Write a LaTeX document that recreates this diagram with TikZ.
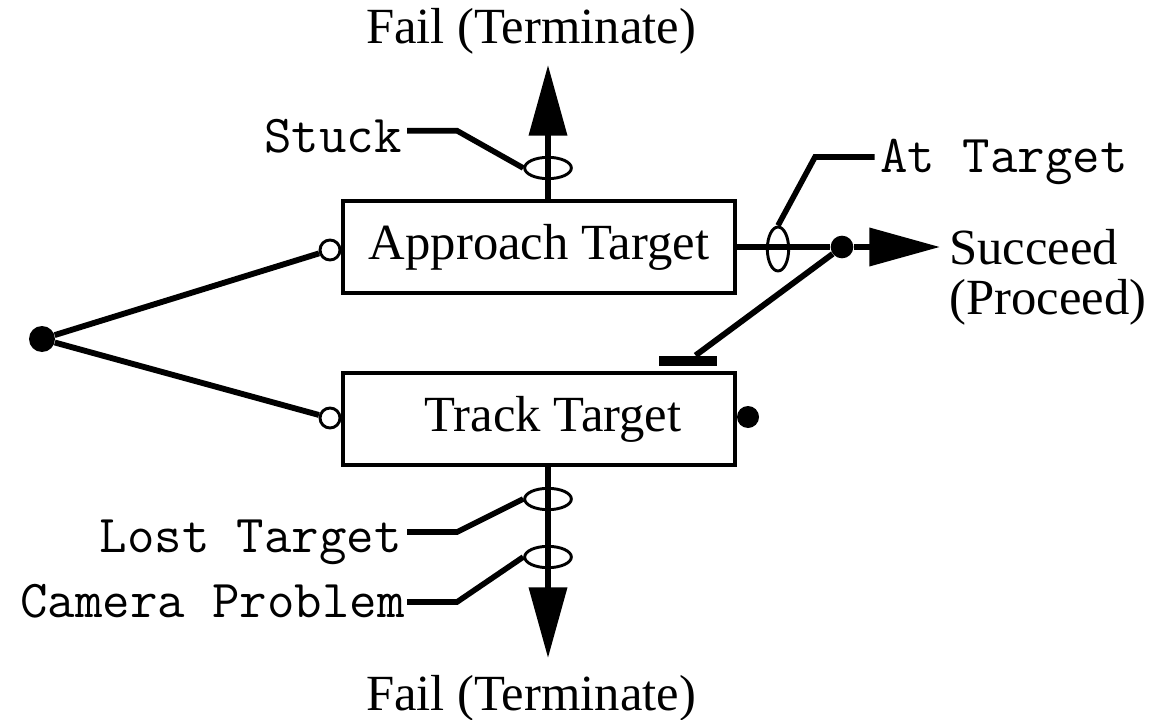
\documentclass[tikz,border=0pt]{standalone}
\usepackage{fontspec}
\setmainfont{Liberation Serif}
\usetikzlibrary{arrows.meta,shapes.geometric}
\begin{document}
\begin{tikzpicture}[x=0.75pt,y=-0.75pt,
  serif/.style={font=\fontsize{38}{37.5}\selectfont, inner sep=0pt},
  mono/.style={font=\ttfamily\fontsize{40}{44}\selectfont, inner sep=0pt},
  taskbox/.style={draw, line width=3pt, minimum width=294pt, minimum height=69pt,
                  inner sep=0pt, serif},
  conn/.style={line width=4.4pt},
  leader/.style={line width=4.2pt, line join=miter},
  tip/.style={-{Triangle[length=53pt,width=28pt]}},
  dotnode/.style={circle, fill=black, inner sep=0pt, minimum size=#1},
  opennode/.style={circle, draw, fill=white, line width=2.2pt, inner sep=0pt, minimum size=15pt},
  hring/.style={ellipse, draw, line width=2.2pt, inner sep=0pt, minimum width=35pt, minimum height=16pt},
  vring/.style={ellipse, draw, line width=2.2pt, inner sep=0pt, minimum width=16pt, minimum height=33pt},
  barnode/.style={rectangle, fill=black, inner sep=0pt, minimum width=43.5pt, minimum height=8pt}]
\useasboundingbox (0,0) rectangle (1152,720);

% behaviour boxes
\node[taskbox] (A) at (539,247) {\raisebox{-3pt}{Approach Target}};
\node[taskbox] (T) at (539,419) {\hspace*{21pt}\raisebox{-2pt}{Track Target}};

% sequencing node and box inputs
\node[dotnode=19.5pt] (split) at (42,339) {};
\node[opennode] (inA) at (330,250) {};
\node[opennode] (inT) at (330,418) {};
\draw[conn] (split) -- (inA);
\draw[conn] (split) -- (inT);

% failure exit on top
\coordinate (failTop) at (548,65);
\draw[conn,tip] (A.north -| failTop) -- (failTop);
\node[hring] (eStuck) at (548,168) {};
\node[serif, anchor=base] (fTop) at (531,44) {Fail (Terminate)};
\node[mono, anchor=base east] (stuck) at (402,153) {Stuck};
\draw[leader] ([shift={(5,-6)}]stuck.east) -- ++(50,0) -- (eStuck.west);

% success exit on the right
\node[dotnode=17pt] (join) at (842,247) {};
\coordinate (succTip) at (940,247);
\draw[conn] (A.east) -- (join);
\draw[conn,tip] (join) -- (succTip);
\node[vring] (eAt) at (778,249) {};
\node[mono, anchor=base west] (atT) at (880,173) {At Target};
\draw[leader] ([xshift=-4]atT.west |- 0,157) -- (815,157) -- (eAt.north);
\node[serif, align=left, anchor=north west] (succ) at (949,229) {Succeed\\(Proceed)};

% tracking output feeding the success exit
\node[barnode] (bar) at (688,361) {};
\draw[conn] (join) -- (bar);
\node[dotnode=16.5pt] (outT) at (748,417) {};

% failure exit at the bottom
\coordinate (failBot) at (548,658);
\draw[conn,tip] (T.south -| failBot) -- (failBot);
\node[hring] (eLost) at (548,499) {};
\node[hring] (eCam) at (548,557) {};
\node[mono, anchor=base east] (lost) at (402,552) {Lost Target};
\node[mono, anchor=base east] (cam) at (405,617) {Camera Problem};
\draw[leader] (407,532) -- (457,532) -- (eLost.west);
\draw[leader] (407,602) -- (457,602) -- (eCam.west);
\node[serif, anchor=base] (fBot) at (531,710) {Fail (Terminate)};
\end{tikzpicture}
\end{document}
